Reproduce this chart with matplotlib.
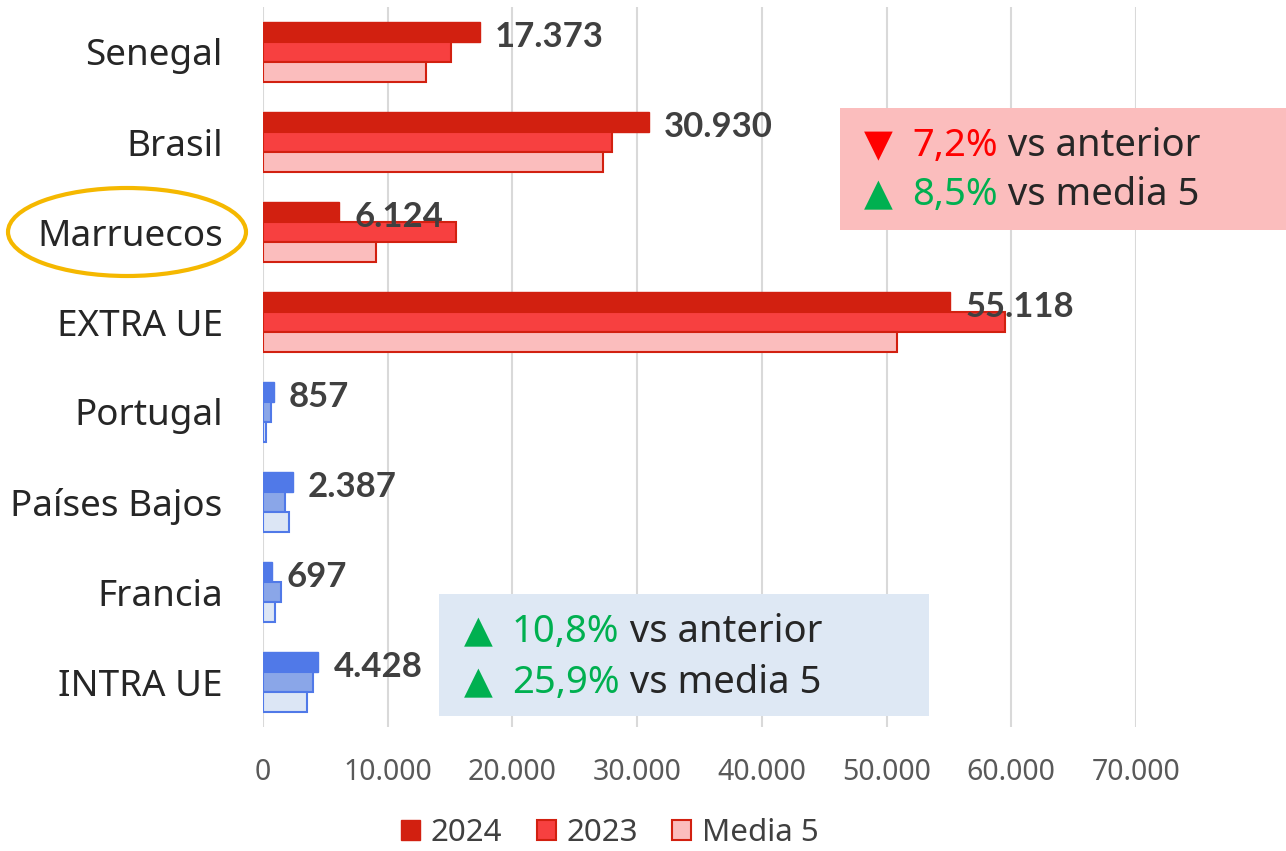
import matplotlib.pyplot as plt
from matplotlib.patches import Patch, Rectangle, Ellipse
from matplotlib.text import Annotation
from matplotlib.ticker import FuncFormatter
import numpy as np

plt.rcParams['font.family'] = ['Noto Sans', 'DejaVu Sans']

# datos
paises = ['Senegal', 'Brasil', 'Marruecos', 'EXTRA UE',
          'Portugal', 'Países Bajos', 'Francia', 'INTRA UE']
v2024 = [17373, 30930, 6124, 55118, 857, 2387, 697, 4428]
v2023 = [15100, 28000, 15500, 59500, 640, 1800, 1450, 4000]
media5 = [13100, 27300, 9100, 50800, 250, 2100, 1000, 3500]
series = ['2024', '2023', 'Media 5']

# colores: extra UE en rojo, intra UE en azul
rojo = ['#D22010', '#F74040', '#FBBDBD']
azul = ['#5079E8', '#8AA6E8', '#DCE6F5']
grupo = ['rojo'] * 4 + ['azul'] * 4

W, H = 1286, 851
fig = plt.figure(figsize=(W / 100, H / 100), dpi=100)
ax = fig.add_axes([263 / W, 1 - 727 / H, (1136 - 263) / W, 720 / H])

y = np.arange(len(paises))
h = 0.222
for i in range(len(paises)):
    cols = rojo if grupo[i] == 'rojo' else azul
    borde = cols[0]
    ax.barh(y[i] - h, v2024[i], height=h, color=cols[0], edgecolor=borde, lw=1, zorder=3)
    ax.barh(y[i], v2023[i], height=h, color=cols[1], edgecolor=borde, lw=1.5, zorder=3)
    ax.barh(y[i] + h, media5[i], height=h, color=cols[2], edgecolor=borde, lw=1.5, zorder=3)
    txt = f'{v2024[i]:,}'.replace(',', '.')
    ax.annotate(txt, xy=(v2024[i], y[i] - h * 0.75), xytext=(11, 0), textcoords='offset points',
                ha='left', va='center', fontsize=25, fontweight='bold', color='#404040',
                family=['Lato', 'DejaVu Sans'], zorder=5)

ax.set_xlim(0, 70000)
ax.set_ylim(len(paises) - 0.5, -0.5)
ax.set_yticks(y)
ax.set_yticklabels(paises)
ax.set_xticks(np.arange(0, 70001, 10000))
ax.xaxis.set_major_formatter(FuncFormatter(lambda v, p: f'{int(v):,}'.replace(',', '.')))
ax.tick_params(axis='y', length=0, pad=29, labelsize=26.5, labelcolor='#262626')
ax.tick_params(axis='x', length=0, pad=22, labelsize=20.5, labelcolor='#595959')
ax.grid(axis='x', color='#D9D9D9', lw=1.5, zorder=0)
for s in ax.spines.values():
    s.set_visible(False)

# leyenda
handles = [Patch(facecolor=rojo[0], edgecolor=rojo[0]),
           Patch(facecolor=rojo[1], edgecolor=rojo[0], lw=1.5),
           Patch(facecolor=rojo[2], edgecolor=rojo[0], lw=1.5)]
fig.legend(handles, series, loc='center', bbox_to_anchor=(610 / W, 1 - 833 / H), ncol=3,
           frameon=False, fontsize=22.5, handlelength=0.6, handleheight=0.6,
           handletextpad=0.35, columnspacing=1.1, labelcolor='#404040')

# cajas de variación
fig.add_artist(Rectangle((840 / W, 1 - 230 / H), (W - 840) / W, 122 / H,
                         transform=fig.transFigure, facecolor='#FBBDBD', edgecolor='none'))
fig.add_artist(Rectangle((439 / W, 1 - 716 / H), (929 - 439) / W, 122 / H,
                         transform=fig.transFigure, facecolor='#DEE8F4', edgecolor='none'))

verde = '#00B050'


def linea(x, yy, simbolo, color, pct, resto):
    fig.text(x / W, 1 - yy / H, simbolo, color=color, fontsize=27, ha='left', va='center',
             family=['DejaVu Sans'])
    t = fig.text((x + 48) / W, 1 - yy / H, pct, color=color, fontsize=27.5, ha='left', va='center')
    fig.add_artist(Annotation(' ' + resto, xy=(1, 0.5), xycoords=t, ha='left', va='center',
                              fontsize=27.5, color='#262626'))


linea(864, 146, '▼', '#FF0000', '7,2%', 'vs anterior')
linea(864, 195, '▲', verde, '8,5%', 'vs media 5')
linea(464, 632, '▲', verde, '10,8%', 'vs anterior')
linea(464, 683, '▲', verde, '25,9%', 'vs media 5')

# Marruecos resaltado
fig.add_artist(Ellipse((127 / W, 1 - 232 / H), 238 / W, 88 / H, transform=fig.transFigure,
                       fill=False, edgecolor='#F5B800', lw=3))

fig.savefig('out.png', dpi=100)
